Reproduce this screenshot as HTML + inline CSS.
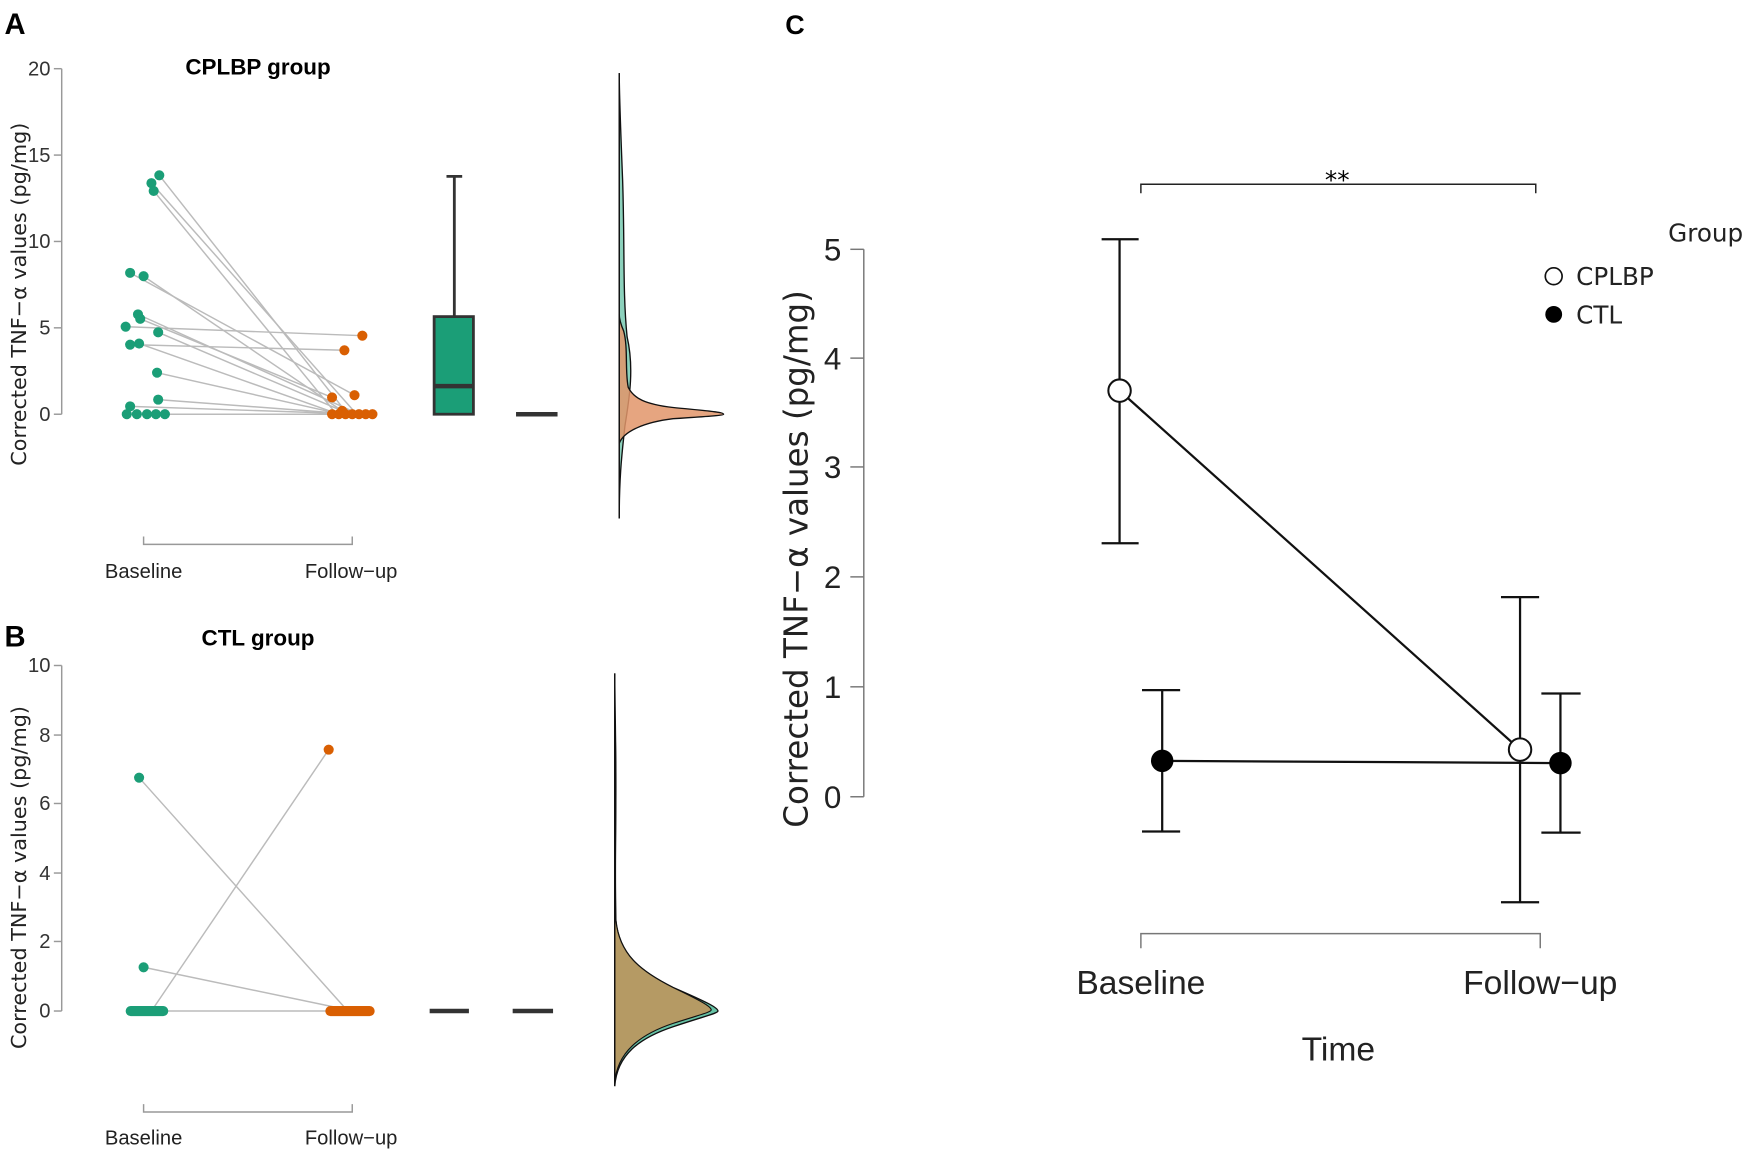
<!DOCTYPE html>
<html><head><meta charset="utf-8"><style>
html,body{margin:0;padding:0;background:#fff}
svg{display:block}
text{font-family:"Liberation Sans",sans-serif}
.n{font-family:"Liberation Sans Narrow","Liberation Sans",sans-serif}
.d{font-family:"DejaVu Sans","Liberation Sans",sans-serif}
</style></head><body>
<svg width="1759" height="1156" viewBox="0 0 1568 1030" xmlns="http://www.w3.org/2000/svg">
<rect width="1568" height="1030" fill="#fff"/>
<!-- Panel A -->
<text x="4" y="30" font-size="26" font-weight="bold">A</text>
<text x="230" y="66" font-size="20" font-weight="bold" text-anchor="middle" class="n">CPLBP group</text>
<g stroke="#999" stroke-width="1.3">
<line x1="55" y1="61" x2="55" y2="369"/>
<line x1="48" y1="61" x2="55" y2="61"/><line x1="48" y1="138" x2="55" y2="138"/><line x1="48" y1="215" x2="55" y2="215"/><line x1="48" y1="292" x2="55" y2="292"/><line x1="48" y1="369" x2="55" y2="369"/>
<path d="M128 478 V485 H314 V478" fill="none"/>
</g>
<g font-size="18" fill="#333" text-anchor="end" class="n">
<text x="45" y="67">20</text><text x="45" y="144">15</text><text x="45" y="221">10</text><text x="45" y="298">5</text><text x="45" y="375">0</text>
</g>
<text class="d" transform="translate(23,262) rotate(-90)" font-size="18.5" text-anchor="middle" fill="#222">Corrected TNF−α values (pg/mg)</text>
<g font-size="18" fill="#222" text-anchor="middle" class="n"><text x="128" y="515">Baseline</text><text x="313" y="515">Follow−up</text></g>
<g stroke="#bbb" stroke-width="1.3">
<line x1="142" y1="156" x2="310" y2="369"/><line x1="135" y1="163" x2="318" y2="369"/><line x1="137" y1="170" x2="300" y2="369"/>
<line x1="116" y1="243" x2="316" y2="352"/><line x1="128" y1="246" x2="305" y2="366"/>
<line x1="123" y1="280" x2="320" y2="369"/><line x1="125" y1="284" x2="296" y2="354"/>
<line x1="112" y1="291" x2="323" y2="299"/><line x1="141" y1="296" x2="312" y2="369"/>
<line x1="116" y1="307" x2="307" y2="312"/><line x1="124" y1="306" x2="302" y2="369"/>
<line x1="140" y1="332" x2="304" y2="369"/><line x1="141" y1="356" x2="315" y2="369"/><line x1="116" y1="362" x2="325" y2="369"/>
<line x1="113" y1="369" x2="330" y2="369"/>
</g>
<g fill="#1b9e77">
<circle cx="142" cy="156" r="4.5"/><circle cx="135" cy="163" r="4.5"/><circle cx="137" cy="170" r="4.5"/>
<circle cx="116" cy="243" r="4.5"/><circle cx="128" cy="246" r="4.5"/><circle cx="123" cy="280" r="4.5"/><circle cx="125" cy="284" r="4.5"/>
<circle cx="112" cy="291" r="4.5"/><circle cx="141" cy="296" r="4.5"/><circle cx="116" cy="307" r="4.5"/><circle cx="124" cy="306" r="4.5"/>
<circle cx="140" cy="332" r="4.5"/><circle cx="141" cy="356" r="4.5"/><circle cx="116" cy="362" r="4.5"/>
<circle cx="113" cy="369" r="4.5"/><circle cx="122" cy="369" r="4.5"/><circle cx="131" cy="369" r="4.5"/><circle cx="139" cy="369" r="4.5"/><circle cx="147" cy="369" r="4.5"/>
</g>
<g fill="#d95f02">
<circle cx="323" cy="299" r="4.5"/><circle cx="307" cy="312" r="4.5"/><circle cx="316" cy="352" r="4.5"/><circle cx="296" cy="354" r="4.5"/><circle cx="305" cy="366" r="4.5"/>
<circle cx="296" cy="369" r="4.5"/><circle cx="302" cy="369" r="4.5"/><circle cx="308" cy="369" r="4.5"/><circle cx="314" cy="369" r="4.5"/><circle cx="320" cy="369" r="4.5"/><circle cx="326" cy="369" r="4.5"/><circle cx="332" cy="369" r="4.5"/>
</g>
<g stroke="#333" stroke-width="2.5">
<line x1="405" y1="157" x2="405" y2="282"/><line x1="398" y1="157" x2="412" y2="157"/>
<rect x="387" y="282" width="35" height="87" fill="#1b9e77"/>
<line x1="387" y1="344" x2="422" y2="344" stroke-width="4"/>
<line x1="460" y1="369" x2="497" y2="369" stroke-width="4"/>
</g>
<path d="M552 462 C552 420 555 400 557 380 C560 360 566 330 559 300 C555 260 557 220 555 160 C553 110 552 80 552 65 Z" fill="#66c2a5" fill-opacity="0.75" stroke="#111" stroke-width="1.2"/>
<path d="M552 395 C556 384 575 376 600 373 C630 371 645 370 645 369 C645 367 630 366 600 363 C575 360 565 355 560 345 C557 330 560 310 556 295 C553 288 552 284 552 280 Z" fill="#e2956a" fill-opacity="0.85" stroke="#111" stroke-width="1.2"/>
<line x1="552" y1="65" x2="552" y2="462" stroke="#111" stroke-width="1.2"/>
<!-- Panel B -->
<text x="4" y="576" font-size="26" font-weight="bold">B</text>
<text x="230" y="575" font-size="20" font-weight="bold" text-anchor="middle" class="n">CTL group</text>
<g stroke="#999" stroke-width="1.3">
<line x1="55" y1="593" x2="55" y2="901"/>
<line x1="48" y1="593" x2="55" y2="593"/><line x1="48" y1="655" x2="55" y2="655"/><line x1="48" y1="716" x2="55" y2="716"/><line x1="48" y1="778" x2="55" y2="778"/><line x1="48" y1="839" x2="55" y2="839"/><line x1="48" y1="901" x2="55" y2="901"/>
<path d="M128 984 V991 H314 V984" fill="none"/>
</g>
<g font-size="18" fill="#333" text-anchor="end" class="n">
<text x="45" y="599">10</text><text x="45" y="661">8</text><text x="45" y="722">6</text><text x="45" y="784">4</text><text x="45" y="845">2</text><text x="45" y="907">0</text>
</g>
<text class="d" transform="translate(23,782) rotate(-90)" font-size="18.5" text-anchor="middle" fill="#222">Corrected TNF−α values (pg/mg)</text>
<g font-size="18" fill="#222" text-anchor="middle" class="n"><text x="128" y="1020">Baseline</text><text x="313" y="1020">Follow−up</text></g>
<g stroke="#bbb" stroke-width="1.3">
<line x1="124" y1="693" x2="310" y2="901"/><line x1="135" y1="901" x2="293" y2="668"/><line x1="128" y1="862" x2="315" y2="901"/><line x1="130" y1="901" x2="312" y2="901"/>
</g>
<rect x="112" y="896.5" width="38" height="9" rx="4.5" fill="#1b9e77"/>
<circle cx="124" cy="693" r="4.5" fill="#1b9e77"/><circle cx="128" cy="862" r="4.5" fill="#1b9e77"/>
<rect x="290" y="896.5" width="44" height="9" rx="4.5" fill="#d95f02"/>
<circle cx="293" cy="668" r="4.5" fill="#d95f02"/>
<g stroke="#333" stroke-width="4"><line x1="383" y1="901" x2="418" y2="901"/><line x1="457" y1="901" x2="493" y2="901"/></g>
<path d="M548 968 C550 940 570 925 600 915 C630 905 640 903 640 901 C640 898 630 893 600 880 C570 865 552 850 549 820 C548 780 549 740 549 700 C549 660 548 620 548 600 Z" fill="#66c2a5" stroke="#111" stroke-width="1.2"/>
<path d="M548 965 C550 938 570 922 600 912 C625 904 634 902 634 900 C634 897 625 892 600 880 C570 865 552 850 549 820 C548 780 549 740 549 700 C549 660 548 640 548 630 Z" fill="#b59a64" stroke="#111" stroke-width="1"/>
<line x1="548" y1="600" x2="548" y2="968" stroke="#111" stroke-width="1.2"/>
<!-- Panel C -->
<text x="700" y="30" font-size="24" font-weight="bold">C</text>
<g stroke="#777" stroke-width="1.3">
<line x1="770" y1="222" x2="770" y2="710"/>
<line x1="758" y1="222" x2="770" y2="222"/><line x1="758" y1="319" x2="770" y2="319"/><line x1="758" y1="416" x2="770" y2="416"/><line x1="758" y1="514" x2="770" y2="514"/><line x1="758" y1="612" x2="770" y2="612"/><line x1="758" y1="710" x2="770" y2="710"/>
<path d="M1017 845 V832 H1373 V845" fill="none"/>
</g>
<path d="M1017 172 V164 H1369 V172" fill="none" stroke="#222" stroke-width="1.3"/>
<text class="d" x="1192" y="168" font-size="22" text-anchor="middle">**</text>
<g class="d" font-size="28" fill="#222" text-anchor="end">
<text x="750" y="232">5</text><text x="750" y="329">4</text><text x="750" y="426">3</text><text x="750" y="524">2</text><text x="750" y="622">1</text><text x="750" y="720">0</text>
</g>
<text class="d" transform="translate(720,498) rotate(-90)" font-size="29" text-anchor="middle" fill="#222">Corrected TNF−α values (pg/mg)</text>
<g class="d" font-size="30" fill="#222" text-anchor="middle"><text x="1017" y="886">Baseline</text><text x="1373" y="886">Follow−up</text><text x="1193" y="945">Time</text></g>
<g stroke="#111" stroke-width="2">
<line x1="998" y1="213" x2="998" y2="484"/><line x1="982" y1="213" x2="1015" y2="213"/><line x1="982" y1="484" x2="1015" y2="484"/>
<line x1="1355" y1="532" x2="1355" y2="804"/><line x1="1338" y1="532" x2="1372" y2="532"/><line x1="1338" y1="804" x2="1372" y2="804"/>
<line x1="1036" y1="615" x2="1036" y2="741"/><line x1="1018" y1="615" x2="1052" y2="615"/><line x1="1018" y1="741" x2="1052" y2="741"/>
<line x1="1391" y1="618" x2="1391" y2="742"/><line x1="1374" y1="618" x2="1409" y2="618"/><line x1="1374" y1="742" x2="1409" y2="742"/>
<line x1="998" y1="348" x2="1355" y2="668"/><line x1="1036" y1="678" x2="1391" y2="680"/>
</g>
<circle cx="998" cy="348" r="10" fill="#fff" stroke="#111" stroke-width="1.8"/>
<circle cx="1355" cy="668" r="10" fill="#fff" stroke="#111" stroke-width="1.8"/>
<circle cx="1036" cy="678" r="10" fill="#000"/>
<circle cx="1391" cy="680" r="10" fill="#000"/>
<text class="d" x="1487" y="215" font-size="22" fill="#222">Group</text>
<circle cx="1385" cy="246" r="7.5" fill="#fff" stroke="#111" stroke-width="1.5"/>
<text class="d" x="1405" y="254" font-size="22" fill="#222">CPLBP</text>
<circle cx="1385" cy="280" r="7.5" fill="#000"/>
<text class="d" x="1405" y="288" font-size="22" fill="#222">CTL</text>
</svg>
</body></html>
